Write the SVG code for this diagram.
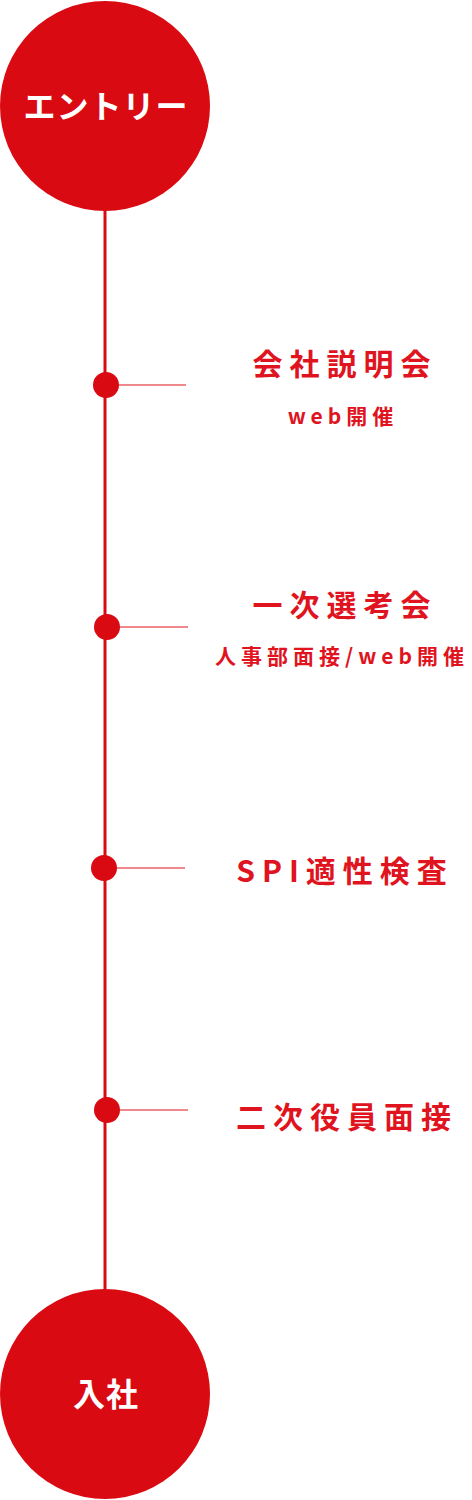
<svg xmlns="http://www.w3.org/2000/svg" width="472" height="1500" viewBox="0 0 472 1500">
<style>
.big{fill:#da0a12}
.circ-t{fill:#fff;font-family:"Noto Sans CJK JP","Noto Sans",sans-serif;font-weight:700;font-size:32px;letter-spacing:1px;text-anchor:middle}
.title{fill:#e0141e;font-family:"Noto Sans CJK JP","Noto Sans",sans-serif;font-weight:700;font-size:30px;letter-spacing:7px;text-anchor:middle}
.sub{fill:#e0141e;font-family:"Noto Sans CJK JP","Noto Sans",sans-serif;font-weight:700;font-size:21px;letter-spacing:5px;text-anchor:middle}
.dot{fill:#da0a12}
.tick{stroke:#e0141e;stroke-width:1.2}
</style>
<g id="connectors">
<line x1="105" y1="205" x2="105" y2="1295" stroke="#da0a12" stroke-width="3"/>
<line class="tick" x1="105" y1="385" x2="186" y2="385"/>
<line class="tick" x1="107" y1="627" x2="188" y2="627"/>
<line class="tick" x1="104" y1="868" x2="185" y2="868"/>
<line class="tick" x1="107" y1="1110" x2="188" y2="1110"/>
</g>
<g id="entry">
<circle class="big" cx="105" cy="106" r="105"/>
<text class="circ-t" x="106" y="118">エントリー</text>
</g>
<g id="step1">
<circle class="dot" cx="106" cy="385" r="13"/>
<text class="title" x="345" y="375">会社説明会</text>
<text class="sub" x="343" y="424">web開催</text>
</g>
<g id="step2">
<circle class="dot" cx="107" cy="627" r="13"/>
<text class="title" x="345" y="616">一次選考会</text>
<text class="sub" x="342" y="664">人事部面接/web開催</text>
</g>
<g id="step3">
<circle class="dot" cx="104" cy="868" r="13"/>
<text class="title" x="345" y="882">SPI適性検査</text>
</g>
<g id="step4">
<circle class="dot" cx="107" cy="1110" r="13"/>
<text class="title" x="347" y="1128">二次役員面接</text>
</g>
<g id="join">
<circle class="big" cx="105" cy="1394" r="105"/>
<text class="circ-t" x="106" y="1406">入社</text>
</g>
</svg>
